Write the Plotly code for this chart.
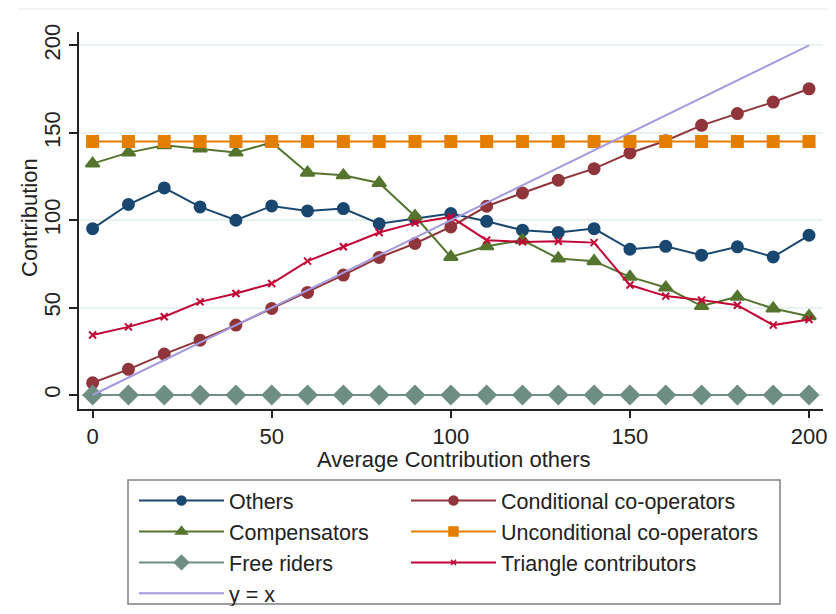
import plotly.graph_objects as go

x_vals = [0, 10, 20, 30, 40, 50, 60, 70, 80, 90, 100,
          110, 120, 130, 140, 150, 160, 170, 180, 190, 200]

others = [95.2, 109, 118.5, 107.6, 100, 108.2, 105.3, 106.7, 98, 101, 103.8,
          99.4, 94.3, 93, 95.2, 83.4, 85.1, 80, 84.8, 79, 91.4]
conditional = [7, 14.7, 23.4, 31.4, 40, 49.5, 58.7, 68.6, 78.7, 86.7, 96.2,
               108, 115.6, 122.9, 129.5, 138.5, 145.5, 154.3, 161, 167.6, 175.2]
compensators = [132.4, 138.7, 142.9, 141, 138.7, 144.5, 127.2, 125.7, 121.3, 102.3, 79,
                85.1, 88.6, 78.1, 76.6, 67.6, 61.5, 50.9, 56.2, 49.5, 45.1]
unconditional = [145] * 21
free_riders = [0] * 21
triangle = [34.3, 39, 44.8, 53.3, 58.1, 63.8, 76.6, 84.8, 93, 98.5, 101.9,
            88.6, 87.6, 88, 87.2, 62.9, 56.6, 54.3, 51.4, 40, 43.2]
diag_x = [0, 200]
diag_y = [0, 200]

FONT = "Liberation Sans, Arial, sans-serif"

# name, values, colour, symbol, plot size, legend size, legend column
series = [
    ("Others", others, "#1a476f", "circle", 11, 9, "legend"),
    ("Conditional co-operators", conditional, "#90353b", "circle", 11, 9, "legend2"),
    ("Compensators", compensators, "#55752f", "triangle-up", 12, 10, "legend"),
    ("Unconditional co-operators", unconditional, "#e37e00", "square", 11, 9, "legend2"),
    ("Free riders", free_riders, "#6e8e84", "diamond", 14, 11, "legend"),
    ("Triangle contributors", triangle, "#c10534", "x-thin", 7, 5, "legend2"),
]

fig = go.Figure()
for name, vals, color, symbol, size, lsize, leg in series:
    fig.add_trace(go.Scatter(
        x=x_vals, y=vals, name=name, mode="lines+markers", showlegend=False,
        line=dict(color=color, width=2),
        marker=dict(symbol=symbol, size=size, color=color,
                    line=dict(color=color, width=2)),
    ))
fig.add_trace(go.Scatter(
    x=diag_x, y=diag_y, name="y = x", mode="lines", showlegend=False,
    line=dict(color="#a39ae0", width=2),
))

# legend-only entries, so the legend symbols can be smaller than the plot markers
for name, vals, color, symbol, size, lsize, leg in series:
    fig.add_trace(go.Scatter(
        x=[None], y=[None], name=name, mode="lines+markers", legend=leg,
        line=dict(color=color, width=2),
        marker=dict(symbol=symbol, size=lsize, color=color,
                    line=dict(color=color, width=1.5)),
    ))
fig.add_trace(go.Scatter(
    x=[None], y=[None], name="y = x", mode="lines", legend="legend",
    line=dict(color="#a39ae0", width=2),
))

# page body has an 8px margin: keep the figure inside the window
W, H = 828, 598
PLOT_H = 377
PLOT_L, PLOT_R = 71, 13

legend_common = dict(
    orientation="v", yanchor="top", xanchor="left",
    xref="container", yref="container",
    font=dict(family=FONT, size=21.5, color="#222"),
    bgcolor="rgba(0,0,0,0)", borderwidth=0, itemwidth=85,
    itemsizing="trace", tracegroupgap=0,
)

plot_w = W - PLOT_L - PLOT_R


def px_x(px):
    # figure pixel -> paper x
    return (px - PLOT_L) / plot_w


fig.update_layout(
    width=W, height=H,
    margin=dict(l=PLOT_L, r=PLOT_R, t=24, b=H - 24 - PLOT_H, autoexpand=False),
    paper_bgcolor="white", plot_bgcolor="white",
    font=dict(family=FONT, size=22, color="#222"),
    showlegend=True,
    legend=dict(x=126 / W, y=1 - 472 / H, **legend_common),
    legend2=dict(x=398 / W, y=1 - 472 / H, **legend_common),
    xaxis=dict(
        range=[-3.8, 203.9], tickvals=[0, 50, 100, 150, 200],
        ticks="outside", ticklen=7, tickwidth=1.5, tickcolor="#222",
        showline=True, linecolor="#222", linewidth=1.5,
        showgrid=False, zeroline=False, automargin=False,
    ),
    yaxis=dict(
        range=[-8, 207.7], tickvals=[0, 50, 100, 150, 200], tickangle=-90,
        ticks="outside", ticklen=8, tickwidth=1.5, tickcolor="#222",
        showline=True, linecolor="#222", linewidth=1.5,
        showgrid=True, gridcolor="#eaf1f1", gridwidth=1.5, zeroline=False,
        automargin=False,
    ),
    annotations=[
        dict(text="Average Contribution others", xref="paper", yref="paper",
             x=px_x(446), y=-0.133, xanchor="center", yanchor="middle",
             showarrow=False, font=dict(family=FONT, size=22, color="#222")),
        dict(text="Contribution", xref="paper", yref="paper",
             x=px_x(21), y=0.5066, xanchor="center", yanchor="middle",
             textangle=-90, showarrow=False,
             font=dict(family=FONT, size=22, color="#222")),
    ],
    shapes=[
        dict(type="rect", xref="paper", yref="paper",
             x0=px_x(120), x1=px_x(772), y0=(401 - 596) / PLOT_H, y1=-0.1883,
             line=dict(color="#808080", width=1.5)),
        dict(type="line", xref="paper", yref="paper",
             x0=px_x(10), x1=px_x(828), y0=1.061, y1=1.061,
             line=dict(color="#eef2f2", width=1.5)),
    ],
)

fig.write_html("out.html")
